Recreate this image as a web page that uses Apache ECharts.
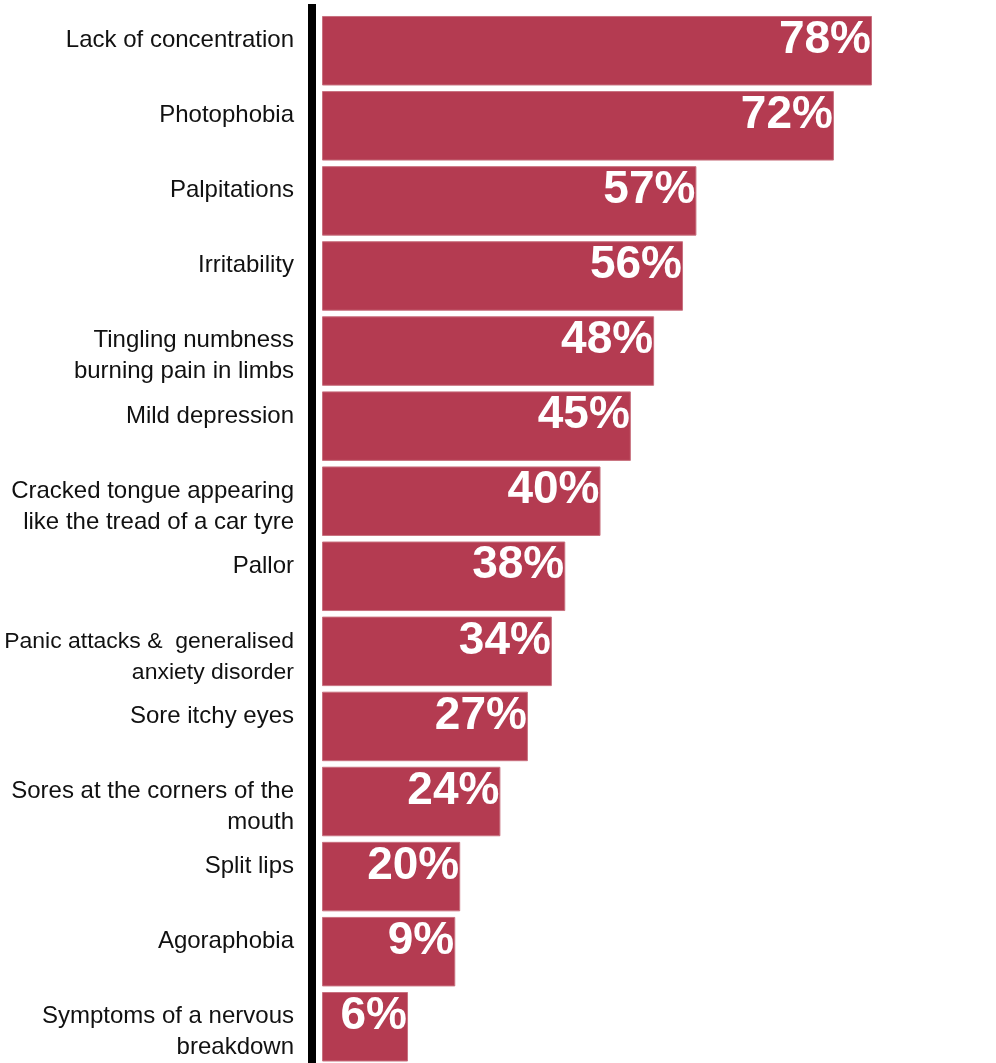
<!DOCTYPE html>
<html>
<head>
<meta charset="utf-8">
<style>
  html, body { margin: 0; padding: 0; background: #ffffff; }
  #chart { width: 996px; height: 1063px; }
</style>
<script src="https://cdn.jsdelivr.net/npm/echarts@6/dist/echarts.min.js"></script>
</head>
<body>
<div id="chart"></div>
<script>
// ---- data ----
const categories = [
  'Lack of concentration',
  'Photophobia',
  'Palpitations',
  'Irritability',
  'Tingling numbness\nburning pain in limbs',
  'Mild depression',
  'Cracked tongue appearing\nlike the tread of a car tyre',
  'Pallor',
  'Panic attacks &  generalised\nanxiety disorder',
  'Sore itchy eyes',
  'Sores at the corners of the\nmouth',
  'Split lips',
  'Agoraphobia',
  'Symptoms of a nervous\nbreakdown'
];
const pctLabels = ['78%', '72%', '57%', '56%', '48%', '45%', '40%', '38%', '34%', '27%', '24%', '20%', '9%', '6%'];
// bar lengths as drawn in the picture (in % units, the longest bar = 78)
const barLengths = [78, 72.6, 53.1, 51.2, 47.1, 43.8, 39.5, 34.5, 32.6, 29.2, 25.3, 19.6, 18.9, 12.2];

// ---- chart ----
const chart = echarts.init(document.getElementById('chart'), null, { renderer: 'canvas' });
const FONT = "'Liberation Sans', Arial, Helvetica, sans-serif";
const GRID_LEFT = 322, GRID_TOP = 13.2, GRID_H = 1051.1, GRID_W = 564.1;
const LABEL_SIZE = 24, LABEL_MAX_W = 290;
const labelStyle = {
  fontFamily: FONT, fontSize: LABEL_SIZE, color: '#111111',
  align: 'right', verticalAlign: 'top', lineHeight: 31
};

// fit each category label into the space left of the axis
const measureCtx = document.createElement('canvas').getContext('2d');
function fitSize(text) {
  measureCtx.font = LABEL_SIZE + 'px ' + FONT;
  const w = Math.max.apply(null, text.split('\n').map(t => measureCtx.measureText(t).width));
  return w > LABEL_MAX_W ? LABEL_SIZE * LABEL_MAX_W / w : LABEL_SIZE;
}
const labelItems = categories.map(c => {
  const s = fitSize(c);
  return s < LABEL_SIZE
    ? { value: c, textStyle: Object.assign({}, labelStyle, { fontSize: s }) }
    : c;
});

const option = {
  animation: false,
  backgroundColor: '#ffffff',
  grid: [
    { left: GRID_LEFT, top: GRID_TOP, width: GRID_W, height: GRID_H, containLabel: false, outerBoundsMode: 'none' },
    { left: GRID_LEFT, top: GRID_TOP - 25.7, width: GRID_W, height: GRID_H, containLabel: false, outerBoundsMode: 'none' },
    { left: 312, top: 4, width: GRID_W, height: 1080, containLabel: false, outerBoundsMode: 'none' }
  ],
  xAxis: [
    { gridIndex: 0, type: 'value', min: 0, max: 80, show: false },
    { gridIndex: 1, type: 'value', min: 0, max: 80, show: false },
    { gridIndex: 2, type: 'value', min: 0, max: 80, show: false }
  ],
  yAxis: [
    {
      gridIndex: 0, type: 'category', data: categories, inverse: true,
      axisLine: { show: false }, axisTick: { show: false }, axisLabel: { show: false },
      splitLine: { show: false }
    },
    {
      gridIndex: 1, type: 'category', data: labelItems, inverse: true,
      axisLine: { show: false }, axisTick: { show: false }, splitLine: { show: false },
      axisLabel: Object.assign({ show: true, margin: 28, interval: 0 }, labelStyle)
    },
    {
      gridIndex: 2, type: 'category', data: ['a'],
      axisLine: { show: true, lineStyle: { color: '#000000', width: 8, cap: 'butt' } },
      axisTick: { show: false }, axisLabel: { show: false }, splitLine: { show: false }
    }
  ],
  series: [
    {
      type: 'bar',
      xAxisIndex: 0, yAxisIndex: 0,
      data: barLengths,
      barWidth: 69.5,
      itemStyle: { color: '#b43b51', borderColor: '#c8717f', borderWidth: 1 },
      label: {
        show: true,
        position: 'insideRight',
        distance: 1,
        offset: [0, -10.5],
        formatter: (p) => pctLabels[p.dataIndex],
        fontFamily: FONT,
        fontWeight: 'bold',
        fontSize: 46,
        color: '#ffffff'
      },
      silent: true
    }
  ]
};
chart.setOption(option);
</script>
</body>
</html>
